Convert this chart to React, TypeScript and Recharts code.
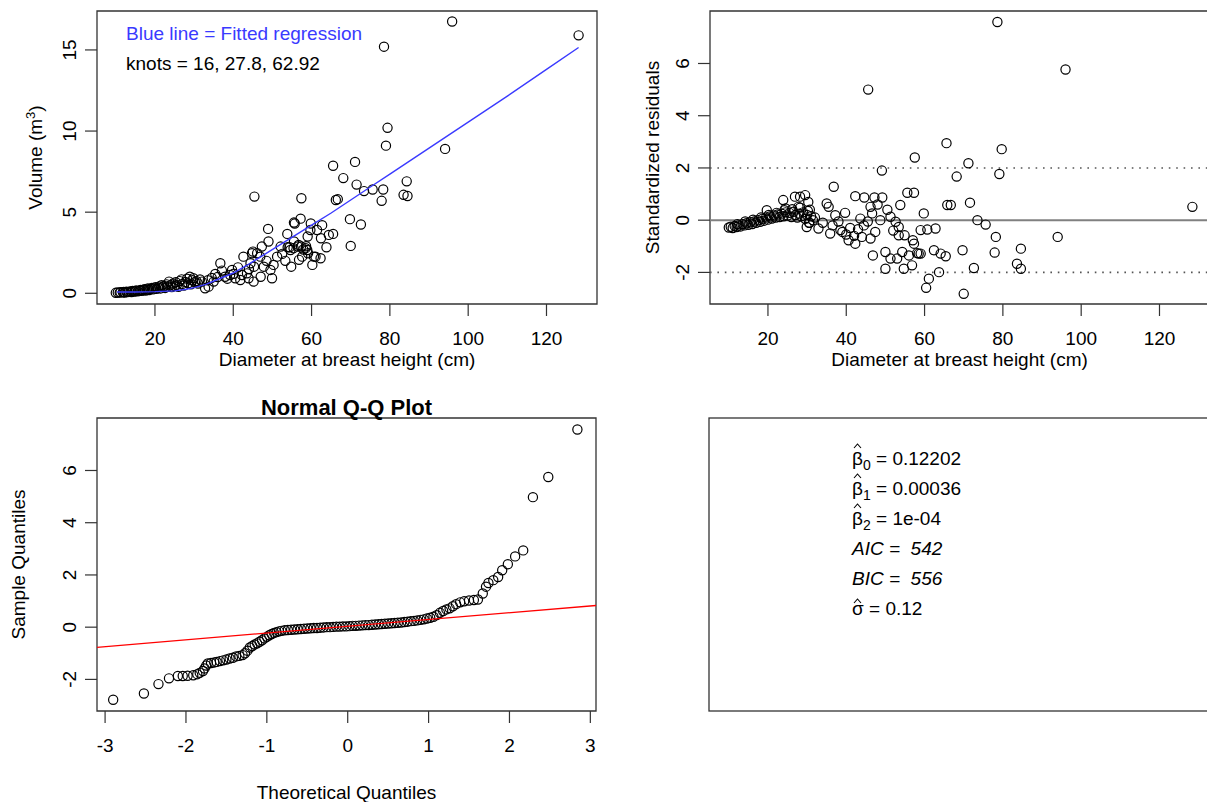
import React from 'react'
import {
  ComposedChart,
  Scatter,
  XAxis,
  YAxis,
  ReferenceArea,
  ReferenceLine,
} from 'recharts'

// top-left: diameter (cm) vs volume (m3)
const dbh = [
  10.0, 10.5, 11.0, 11.2, 11.8, 12.0, 12.3, 12.7, 13.0, 13.4,
  13.8, 14.0, 14.3, 14.7, 15.0, 15.2, 15.6, 16.0, 16.3, 16.6,
  17.0, 17.3, 17.6, 18.0, 18.2, 18.5, 18.9, 19.2, 19.5, 19.8,
  20.1, 20.4, 20.8, 21.1, 21.4, 21.7, 22.0, 22.3, 22.6, 23.0,
  23.3, 23.6, 24.0, 24.3, 24.6, 25.0, 25.3, 25.6, 26.0, 26.3,
  26.8, 27.0, 27.4, 27.8, 28.2, 28.5, 28.9, 29.2, 29.6, 29.8,
  30.2, 30.6, 31.0, 31.5, 32.0, 32.8, 33.5, 33.7, 34.5, 35.0,
  35.4, 36.0, 36.7, 37.1, 37.9, 38.5, 39.2, 39.7, 40.1, 40.5,
  41.2, 41.8, 42.2, 42.6, 43.5, 43.9, 44.0, 44.4, 44.8, 45.0,
  45.2, 45.3, 45.4, 46.1, 46.9, 47.0, 47.3, 47.8, 48.5, 48.9,
  49.0, 49.5, 49.9, 50.3, 51.2, 52.1, 52.5, 53.3, 53.8, 53.9,
  54.4, 54.6, 54.8, 55.4, 55.5, 55.5, 55.7, 56.5, 56.7, 56.8,
  57.2, 57.3, 57.4, 57.6, 57.9, 58.5, 58.6, 58.9, 59.0, 59.1,
  59.7, 59.8, 60.2, 60.6, 61.0, 61.4, 62.3, 62.4, 62.7, 63.8,
  64.4, 65.5, 65.5, 66.2, 66.7, 68.1, 69.8, 70.0, 71.1, 71.5,
  72.6, 73.4, 75.6, 77.9, 78.3, 78.5, 79.0, 79.4, 83.5, 84.3,
  84.5, 94.1, 95.9, 128.2,
]
const volume = [
  0.03, 0.05, 0.04, 0.07, 0.06, 0.08, 0.05, 0.10, 0.07, 0.10,
  0.12, 0.08, 0.14, 0.11, 0.13, 0.18, 0.12, 0.16, 0.21, 0.15,
  0.20, 0.25, 0.17, 0.23, 0.30, 0.20, 0.27, 0.33, 0.24, 0.30,
  0.38, 0.27, 0.35, 0.42, 0.30, 0.50, 0.38, 0.45, 0.33, 0.55,
  0.42, 0.72, 0.50, 0.38, 0.60, 0.45, 0.68, 0.52, 0.40, 0.75,
  0.86, 0.58, 0.48, 0.70, 0.90, 0.62, 1.02, 0.55, 0.80, 0.93,
  0.68, 0.75, 0.60, 0.85, 0.72, 0.31, 0.80, 0.41, 0.95, 0.72,
  1.19, 1.00, 1.85, 1.40, 1.02, 0.90, 1.13, 1.44, 1.20, 0.93,
  1.60, 0.82, 1.13, 2.26, 1.23, 0.93, 1.50, 1.85, 2.47, 2.57,
  0.72, 1.64, 5.96, 2.47, 2.26, 1.02, 2.88, 1.64, 2.00, 3.97,
  3.19, 1.44, 0.93, 1.75, 2.26, 2.88, 2.43, 2.00, 3.66, 2.84,
  2.84, 2.67, 1.64, 2.78, 3.19, 4.36, 4.30, 2.88, 2.98, 2.06,
  4.60, 2.88, 5.86, 2.26, 2.70, 2.78, 2.90, 2.67, 3.50, 2.47,
  3.90, 4.30, 1.75, 2.26, 2.26, 3.90, 2.16, 3.39, 4.20, 2.84,
  3.60, 3.66, 7.86, 5.75, 5.80, 7.10, 4.57, 2.92, 8.10, 6.70,
  4.24, 6.30, 6.40, 5.70, 6.40, 15.20, 9.10, 10.20, 6.07, 6.90,
  6.00, 8.90, 16.75, 15.90,
]

// fitted spline (blue line)
const fitDbh = [10.3, 15, 20, 25, 28, 30, 33, 36, 40, 44, 48, 52, 56, 60, 65, 70, 75, 80, 85, 90, 100, 110, 120, 128.2]
const fitVolume = [0.08, 0.08, 0.1, 0.15, 0.25, 0.35, 0.55, 0.85, 1.25, 1.8, 2.4, 3.0, 3.6, 4.2, 4.95, 5.75, 6.55, 7.35, 8.15, 8.95, 10.55, 12.15, 13.8, 15.15]
const knots = [16, 27.8, 62.92]

// top-right: standardized residuals
const resDbh = [
  10.0, 10.5, 11.0, 11.5, 12.0, 12.5, 13.0, 13.5, 14.0, 14.5,
  15.0, 15.5, 16.0, 16.5, 17.0, 17.5, 18.0, 18.5, 19.0, 19.5,
  20.0, 20.5, 21.0, 21.5, 22.0, 22.5, 23.0, 23.5, 24.0, 24.5,
  25.0, 25.5, 26.0, 26.5, 27.0, 27.5, 28.0, 28.5, 29.0, 29.5,
  30.0, 30.5, 31.0, 31.5, 32.0, 23.9, 26.9, 28.2, 29.5, 30.3,
  27.8, 30.7, 24.5, 19.7, 29.9, 32.9, 30.6, 35.0, 35.5, 36.8,
  37.2, 39.7, 42.3, 43.6, 44.6, 46.2, 46.6, 47.2, 48.7, 49.2,
  49.1, 45.6, 51.3, 52.6, 53.4, 53.8, 55.6, 57.3, 57.5, 59.8,
  59.0, 60.7, 62.8, 65.6, 65.8, 66.7, 68.2, 35.9, 38.5, 40.6,
  42.3, 44.0, 46.2, 47.4, 50.0, 51.3, 53.0, 54.3, 50.0, 54.7,
  56.8, 56.0, 58.5, 62.4, 64.1, 65.4, 46.8, 57.3, 57.0, 53.4,
  54.9, 61.1, 60.4, 63.7, 70.0, 71.2, 71.6, 73.5, 75.6, 78.2,
  78.6, 79.1, 79.7, 96.0, 94.0, 84.6, 77.9, 69.7, 83.6, 84.6,
  72.6, 128.4, 58.1, 59.0, 34.0, 36.5, 38.0, 39.0, 40.0, 41.0,
  42.0, 43.0, 44.5, 45.5, 48.0, 50.5, 52.0,
  12.2, 14.2, 16.2, 18.2, 20.2, 22.2, 24.2, 26.2, 28.2, 30.2,
]
const stdResid = [
  -0.28, -0.25, -0.3, -0.22, -0.26, -0.2, -0.24, -0.15, -0.2, -0.12,
  -0.18, -0.08, -0.15, -0.05, -0.1, 0.0, -0.06, 0.05, -0.02, 0.1,
  0.02, 0.14, 0.06, 0.18, 0.1, 0.22, 0.12, 0.25, 0.15, 0.3,
  0.18, 0.28, 0.12, 0.32, 0.2, 0.1, 0.25, 0.15, 0.3, 0.05,
  0.2, -0.1, 0.15, 0.0, 0.1, 0.77, 0.9, 0.9, 0.96, 0.7,
  0.51, 0.4, 0.45, 0.38, -0.26, -0.32, -0.1, 0.64, 0.51, 1.28,
  0.19, 0.28, 0.92, 0.06, 0.87, 0.51, 0.26, 0.87, 0.0, 0.87,
  1.9, 5.0, 0.13, -0.06, -0.26, 0.58, 1.05, 1.05, 2.4, 0.26,
  -0.38, -0.36, -0.32, 2.95, 0.58, 0.58, 1.67, -0.51, -0.38, -0.77,
  -0.9, -0.64, -0.7, -0.45, -1.22, -1.47, -1.47, -1.22, -1.86, -1.86,
  -1.73, -1.35, -1.28, -1.15, -1.28, -1.38, -1.35, -0.9, -0.77, -0.58,
  -0.58, -2.24, -2.59, -1.99, -2.82, 2.18, 0.67, 0.0, -0.17, -0.64,
  7.59, 1.77, 2.72, 5.77, -0.64, -1.09, -1.24, -1.15, -1.67, -1.86,
  -1.83, 0.51, -1.26, -1.28, -0.1, -0.2, -0.05, -0.45, -0.55, -0.3,
  -0.6, -0.35, -0.2, -0.05, 0.6, 0.4, -0.4,
  -0.15, -0.05, 0.02, 0.1, 0.2, 0.28, 0.38, 0.42, 0.48, 0.35,
]

// bottom-left: normal Q-Q plot
const theoQ = [
  -2.9, -2.52, -2.34, -2.21, -2.1, -2.04, -1.98, -1.91, -1.86, -1.83,
  -1.79, -1.77, -1.75, -1.73, -1.69, -1.65, -1.62, -1.58, -1.54, -1.5,
  -1.46, -1.42, -1.38, -1.34, -1.3, -1.27, -1.24, -1.21, -1.18, -1.15,
  -1.12, -1.09, -1.06, -1.03, -1.0, -0.97, -0.94, -0.91, -0.88, -0.85,
  -0.82, -0.78, -0.74, -0.7, -0.66, -0.62, -0.58, -0.54, -0.5, -0.46,
  -0.42, -0.38, -0.34, -0.3, -0.26, -0.22, -0.18, -0.14, -0.1, -0.06,
  -0.02, 0.02, 0.06, 0.1, 0.14, 0.18, 0.22, 0.26, 0.3, 0.34,
  0.38, 0.42, 0.46, 0.5, 0.54, 0.58, 0.62, 0.66, 0.7, 0.74,
  0.78, 0.82, 0.86, 0.9, 0.94, 0.98, 1.02, 1.06, 1.1, 1.14,
  1.18, 1.22, 1.26, 1.3, 1.34, 1.39, 1.44, 1.5, 1.56, 1.61,
  1.67, 1.71, 1.74, 1.8, 1.86, 1.91, 1.98, 2.07, 2.17, 2.29,
  2.48, 2.84,
]
const sampleQ = [
  -2.78, -2.54, -2.18, -1.96, -1.87, -1.87, -1.86, -1.84, -1.8, -1.75,
  -1.68, -1.58, -1.47, -1.39, -1.37, -1.35, -1.33, -1.3, -1.27, -1.24,
  -1.2, -1.17, -1.12, -1.1, -1.07, -1.0, -0.9, -0.78, -0.72, -0.66,
  -0.62, -0.56, -0.5, -0.43, -0.37, -0.31, -0.26, -0.22, -0.19, -0.16,
  -0.14, -0.12, -0.11, -0.1, -0.09, -0.08, -0.07, -0.06, -0.05, -0.04,
  -0.03, -0.03, -0.02, -0.01, 0.0, 0.0, 0.01, 0.02, 0.02, 0.03,
  0.03, 0.04, 0.05, 0.05, 0.06, 0.07, 0.08, 0.08, 0.09, 0.1,
  0.11, 0.12, 0.13, 0.14, 0.15, 0.16, 0.17, 0.18, 0.2, 0.21,
  0.23, 0.24, 0.26, 0.28, 0.3, 0.33, 0.36, 0.4, 0.46, 0.55,
  0.62, 0.68, 0.72, 0.8, 0.88, 0.95, 0.99, 1.02, 1.04, 1.06,
  1.29, 1.55, 1.69, 1.8, 1.92, 2.18, 2.41, 2.71, 2.94, 4.98,
  5.75, 7.57,
]
const qqLineX = [-3.1, 3.07]
const qqLineY = [-0.77, 0.83]

// ticks
const xTicksDbh = [20, 40, 60, 80, 100, 120]
const yTicksVolume = [0, 5, 10, 15]
const yTicksResid = [-2, 0, 2, 4, 6]
const xTicksQQ = [-3, -2, -1, 0, 1, 2, 3]

// bottom-right: model summary
const coefValues = ['0.12202', '0.00036', '1e-04']
const aic = 542
const bic = 556
const sigmaHat = 0.12

const FONT = '"Liberation Sans", Arial, Helvetica, sans-serif'
const FS = 19
const BOX = '#333'
const NBSP = '\u00a0'

const toPts = (xs: number[], ys: number[]) => xs.map((x, i) => ({ x, y: ys[i] }))

const volumePts = toPts(dbh, volume)
const fitPts = toPts(fitDbh, fitVolume)
const residPts = toPts(resDbh, stdResid)
const qqPts = toPts(theoQ, sampleQ)
const qqLinePts = toPts(qqLineX, qqLineY)

const XTick = (props: any) => {
  const { x, y, payload } = props
  return (
    <text x={x} y={y + 29} textAnchor="middle" fontSize={FS} fill="#000" fontFamily={FONT}>
      {payload.value}
    </text>
  )
}

const YTick = (props: any) => {
  const { x, y, payload } = props
  const bx = x - 9
  return (
    <text
      x={bx}
      y={y}
      transform={`rotate(-90 ${bx} ${y})`}
      textAnchor="middle"
      fontSize={FS}
      fill="#000"
      fontFamily={FONT}
    >
      {payload.value}
    </text>
  )
}

const OpenCircle = (props: any) => {
  if (props.cx == null || props.cy == null) return <g />
  return <circle cx={props.cx} cy={props.cy} r={4.6} fill="none" stroke="#000" strokeWidth={1.2} />
}
const NoDot = () => <g />

const axisCommon = {
  type: 'number' as const,
  allowDataOverflow: true,
  interval: 0 as const,
  tickSize: 12,
  tickMargin: 0,
  tickLine: { stroke: BOX, strokeWidth: 1.2 },
  axisLine: false,
}

function FitPanel() {
  const xd: [number, number] = [5.2, 132.9]
  const yd: [number, number] = [-0.66, 17.4]
  return (
    <ComposedChart width={610} height={380} margin={{ top: 11, right: 13, bottom: 0, left: 0 }}>
      <XAxis {...axisCommon} dataKey="x" domain={xd} ticks={xTicksDbh} tick={<XTick />} height={76} />
      <YAxis {...axisCommon} dataKey="y" domain={yd} ticks={yTicksVolume} tick={<YTick />} width={97} />
      <ReferenceArea x1={xd[0]} x2={xd[1]} y1={yd[0]} y2={yd[1]} fill="none" stroke={BOX} strokeWidth={1.3} ifOverflow="visible" />
      <Scatter data={volumePts} shape={OpenCircle} isAnimationActive={false} />
      <Scatter data={fitPts} line={{ stroke: '#3a3aff', strokeWidth: 1.4 }} lineType="joint" shape={NoDot} isAnimationActive={false} />
    </ComposedChart>
  )
}

function ResidPanel() {
  const xd: [number, number] = [5.2, 132.9]
  const yd: [number, number] = [-3.21, 8.01]
  return (
    <ComposedChart width={620} height={380} margin={{ top: 11, right: 20, bottom: 0, left: 0 }}>
      <XAxis {...axisCommon} dataKey="x" domain={xd} ticks={xTicksDbh} tick={<XTick />} height={76} />
      <YAxis {...axisCommon} dataKey="y" domain={yd} ticks={yTicksResid} tick={<YTick />} width={100} />
      <ReferenceArea x1={xd[0]} x2={xd[1]} y1={yd[0]} y2={yd[1]} fill="none" stroke={BOX} strokeWidth={1.3} ifOverflow="visible" />
      <ReferenceLine y={0} stroke="#808080" strokeWidth={2} />
      <ReferenceLine y={2} stroke="#555" strokeWidth={1.6} strokeDasharray="1.6 5.8" />
      <ReferenceLine y={-2} stroke="#555" strokeWidth={1.6} strokeDasharray="1.6 5.8" />
      <Scatter data={residPts} shape={OpenCircle} isAnimationActive={false} />
    </ComposedChart>
  )
}

function QQPanel() {
  const xd: [number, number] = [-3.1, 3.07]
  const yd: [number, number] = [-3.21, 8.01]
  return (
    <ComposedChart width={610} height={412} margin={{ top: 28, right: 14, bottom: 0, left: 0 }}>
      <XAxis {...axisCommon} dataKey="x" domain={xd} ticks={xTicksQQ} tick={<XTick />} height={91} />
      <YAxis {...axisCommon} dataKey="y" domain={yd} ticks={yTicksResid} tick={<YTick />} width={97} />
      <ReferenceArea x1={xd[0]} x2={xd[1]} y1={yd[0]} y2={yd[1]} fill="none" stroke={BOX} strokeWidth={1.3} ifOverflow="visible" />
      <Scatter data={qqPts} shape={OpenCircle} isAnimationActive={false} />
      <Scatter data={qqLinePts} line={{ stroke: '#ff0000', strokeWidth: 1.3 }} lineType="joint" shape={NoDot} isAnimationActive={false} />
    </ComposedChart>
  )
}

// small circumflex drawn above a symbol (plotmath hat)
function Hat({ cx, top }: { cx: number; top: number }) {
  return (
    <polyline
      points={`${cx - 3.5},${top + 4} ${cx},${top} ${cx + 3.5},${top + 4}`}
      fill="none"
      stroke="#000"
      strokeWidth={1.1}
    />
  )
}

function Overlay() {
  const tx = 852
  const base = [465, 495, 525, 555, 585, 615]
  return (
    <svg width={1207} height={802} style={{ position: 'absolute', left: 0, top: 0, pointerEvents: 'none' }} fontFamily={FONT} fontSize={FS}>
      {/* top-left annotations */}
      <text x={126} y={40} fill="#3a3aff">Blue line = Fitted regression</text>
      <text x={126} y={70} fill="#000">{`knots = ${knots.join(', ')}`}</text>
      <text x={347} y={366} textAnchor="middle">Diameter at breast height (cm)</text>
      <text x={42} y={157.5} textAnchor="middle" transform="rotate(-90 42 157.5)">
        Volume (m<tspan dy={-7} fontSize={13}>3</tspan><tspan dy={7}>)</tspan>
      </text>

      {/* top-right */}
      <text x={959.5} y={366} textAnchor="middle">Diameter at breast height (cm)</text>
      <text x={659} y={157.5} textAnchor="middle" transform="rotate(-90 659 157.5)">Standardized residuals</text>

      {/* bottom-left */}
      <text x={346.5} y={415} textAnchor="middle" fontWeight="bold" fontSize={22}>Normal Q-Q Plot</text>
      <text x={346.5} y={799} textAnchor="middle">Theoretical Quantiles</text>
      <text x={25} y={564.5} textAnchor="middle" transform="rotate(-90 25 564.5)">Sample Quantiles</text>

      {/* bottom-right summary */}
      <rect x={709} y={418} width={520} height={293} fill="none" stroke={BOX} strokeWidth={1.3} />
      {coefValues.map((v, i) => (
        <g key={i}>
          <Hat cx={tx + 5.5} top={base[i] - 21} />
          <text x={tx} y={base[i]}>
            β<tspan dy={5} fontSize={14}>{i}</tspan>
            <tspan dy={-5}>{` = ${v}`}</tspan>
          </text>
        </g>
      ))}
      <text x={tx} y={base[3]} fontStyle="italic">{`AIC =${NBSP} ${aic}`}</text>
      <text x={tx} y={base[4]} fontStyle="italic">{`BIC =${NBSP} ${bic}`}</text>
      <Hat cx={tx + 5.5} top={base[5] - 16} />
      <text x={tx} y={base[5]}>{`σ = ${sigmaHat}`}</text>
    </svg>
  )
}

export default function App() {
  return (
    <div
      style={{
        position: 'absolute',
        left: 0,
        top: 0,
        width: 1207,
        height: 802,
        overflow: 'hidden',
        background: '#fff',
        fontFamily: FONT,
      }}
    >
      <div style={{ position: 'absolute', left: 0, top: 0 }}>
        <FitPanel />
      </div>
      <div style={{ position: 'absolute', left: 610, top: 0 }}>
        <ResidPanel />
      </div>
      <div style={{ position: 'absolute', left: 0, top: 390 }}>
        <QQPanel />
      </div>
      <Overlay />
    </div>
  )
}
